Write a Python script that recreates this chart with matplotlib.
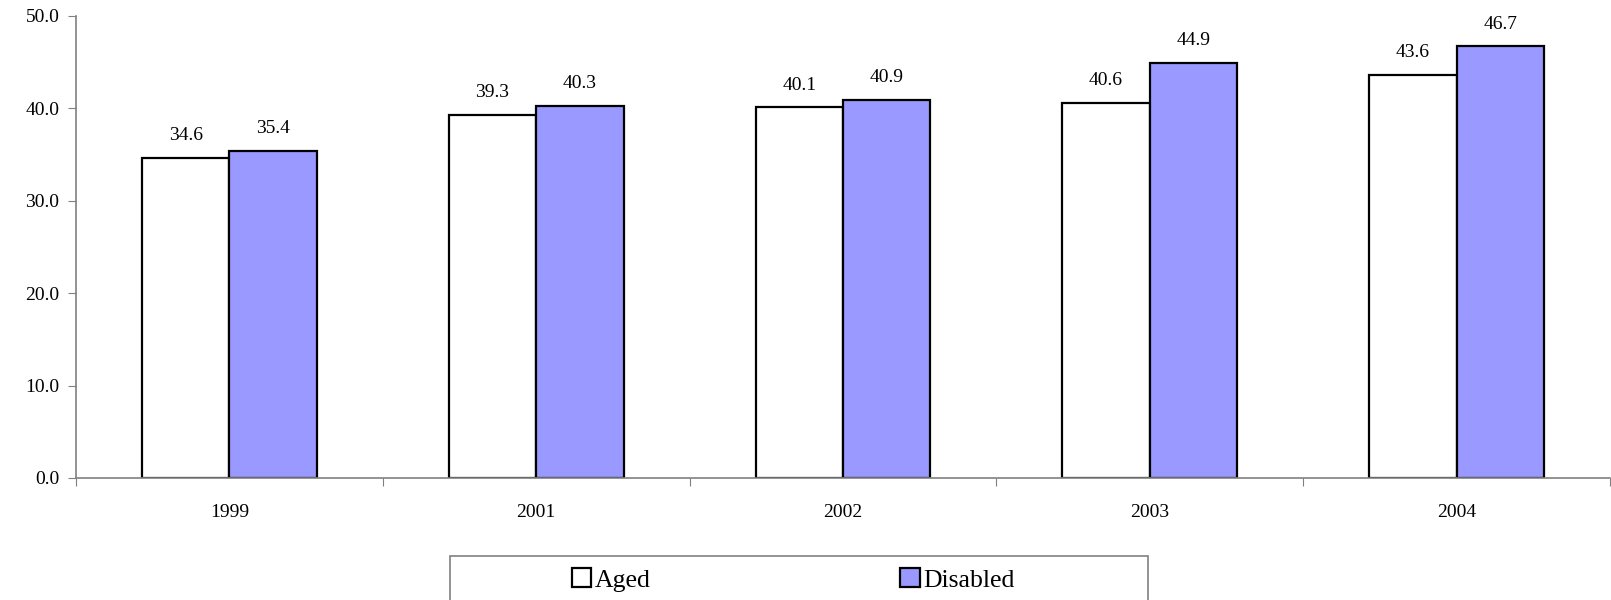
import matplotlib.pyplot as plt
from matplotlib.patches import Rectangle
import numpy as np

years = ['1999', '2001', '2002', '2003', '2004']
aged = [34.6, 39.3, 40.1, 40.6, 43.6]
disabled = [35.4, 40.3, 40.9, 44.9, 46.7]

plt.rcParams['font.family'] = ['Liberation Serif', 'DejaVu Serif']

fig = plt.figure(figsize=(16.11, 6.0), dpi=100)
ax = fig.add_axes([76 / 1611, 1 - 478 / 600, 1534 / 1611, 462 / 600])

x = np.arange(len(years))
w = 0.285
b1 = ax.bar(x - w / 2, aged, w, color='white', edgecolor='black', linewidth=1.6, label='Aged')
b2 = ax.bar(x + w / 2, disabled, w, color='#9999FF', edgecolor='black', linewidth=1.6, label='Disabled')

for bars, vals in ((b1, aged), (b2, disabled)):
    for r, v in zip(bars, vals):
        ax.annotate('%.1f' % v, (r.get_x() + r.get_width() / 2, v), xytext=(0, 10),
                    textcoords='offset points', ha='center', va='bottom', fontsize=14)

ax.set_ylim(0, 50)
ax.set_yticks(np.arange(0, 51, 10))
ax.set_yticklabels(['%.1f' % t for t in np.arange(0, 51, 10)], fontsize=14)
ax.set_xlim(-0.5, len(years) - 0.5)
ax.set_xticks(np.arange(len(years) + 1) - 0.5)
ax.set_xticklabels([])
ax.set_xticks(x, minor=True)
ax.set_xticklabels(years, minor=True, fontsize=14)
ax.tick_params(axis='x', which='major', length=6, color='#808080', direction='out')
ax.tick_params(axis='x', which='minor', length=0, pad=19)
ax.tick_params(axis='y', length=6, color='#808080', direction='out', pad=6)
for s in ('top', 'right'):
    ax.spines[s].set_visible(False)
for s in ('left', 'bottom'):
    ax.spines[s].set_color('#808080')
    ax.spines[s].set_linewidth(1.2)

# legend box runs off the bottom edge, as in the original
fig.patches.append(Rectangle((450 / 1611, -0.05), 698 / 1611, 0.05 + 44 / 600,
                             transform=fig.transFigure, fill=False, edgecolor='#808080',
                             linewidth=1.2))
leg = fig.legend(loc='center left', bbox_to_anchor=(572 / 1611, 1 - 580 / 600), ncol=2,
                 frameon=False, fontsize=18.5, handlelength=0.75, handleheight=0.75,
                 handletextpad=0.15, columnspacing=9.7, borderpad=0, borderaxespad=0)

fig.savefig('out.png', dpi=100)
